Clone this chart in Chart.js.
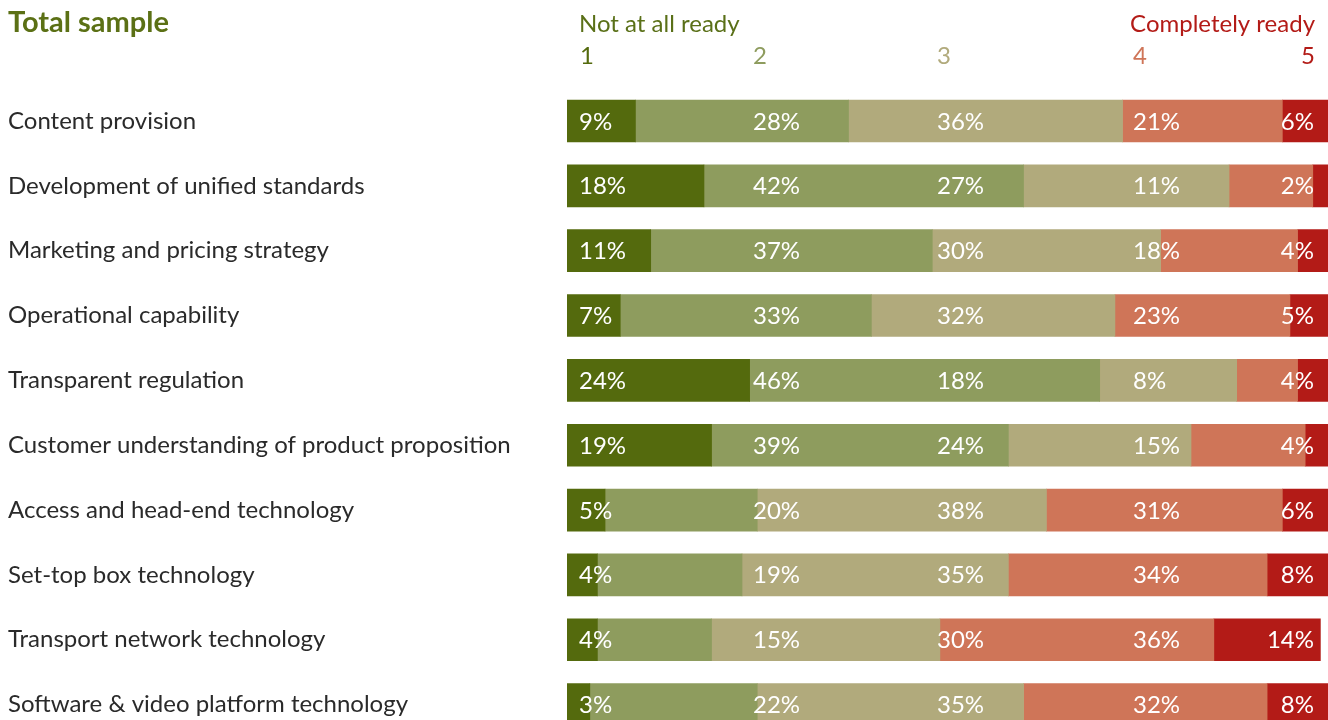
<!DOCTYPE html>
<html>
<head>
<meta charset="utf-8">
<title>Total sample</title>
<script src="https://cdn.jsdelivr.net/npm/chart.js@4/dist/chart.umd.min.js"></script>
<style>
    html, body { margin: 0; padding: 0; background: #fff; overflow: hidden; }
    #readinessChart { display: block; }
</style>
</head>
<body>
<canvas id="readinessChart" width="1328" height="737"></canvas>
<script>
// Survey categories, top to bottom
const categories = [
    'Content provision',
    'Development of unified standards',
    'Marketing and pricing strategy',
    'Operational capability',
    'Transparent regulation',
    'Customer understanding of product proposition',
    'Access and head-end technology',
    'Set-top box technology',
    'Transport network technology',
    'Software & video platform technology'
];

// Share of answers (%) per readiness level, 1 = not at all ready ... 5 = completely ready
const level1 = [9, 18, 11, 7, 24, 19, 5, 4, 4, 3];
const level2 = [28, 42, 37, 33, 46, 39, 20, 19, 15, 22];
const level3 = [36, 27, 30, 32, 18, 24, 38, 35, 30, 35];
const level4 = [21, 11, 18, 23, 8, 15, 31, 34, 36, 32];
const level5 = [6, 2, 4, 5, 4, 4, 6, 8, 14, 8];

const levelNames = ['1', '2', '3', '4', '5'];
const levelColors = ['#546a0d', '#8e9c5e', '#b1aa7c', '#cf7558', '#b31b17'];

document.addEventListener('DOMContentLoaded', function() {
    const ctx = document.getElementById('readinessChart').getContext('2d');
    const series = [level1, level2, level3, level4, level5];

    // Percent labels sit in fixed columns, not in the middle of each segment
    const valueLabels = {
        id: 'valueLabels',
        afterDatasetsDraw(chart) {
            const c = chart.ctx;
            const left = chart.chartArea.left;
            const columns = [12, 186, 370, 566, 747];
            c.save();
            c.font = '24px Lato';
            c.fillStyle = '#ffffff';
            chart.data.datasets.forEach((ds, j) => {
                const meta = chart.getDatasetMeta(j);
                meta.data.forEach((bar, i) => {
                    c.textAlign = j === 4 ? 'right' : 'left';
                    c.fillText(ds.data[i] + '%', left + columns[j], bar.y + 8.5);
                });
            });
            c.restore();
        }
    };

    // Title and the readiness scale above the bars
    const header = {
        id: 'header',
        afterDraw(chart) {
            const c = chart.ctx;
            c.save();
            c.textBaseline = 'alphabetic';
            c.font = 'bold 29px Lato';
            c.fillStyle = '#5b7015';
            c.textAlign = 'left';
            c.fillText('Total sample', 8, 32);

            c.font = '24px Lato';
            c.fillStyle = '#5a7018';
            c.fillText('Not at all ready', 579, 32);
            c.fillStyle = levelColors[4];
            c.textAlign = 'right';
            c.fillText('Completely ready', 1315, 32);

            const xs = [580, 753, 937, 1133, 1315];
            levelNames.forEach((name, k) => {
                c.fillStyle = levelColors[k];
                c.textAlign = k === 4 ? 'right' : 'left';
                c.fillText(name, xs[k], 64);
            });
            c.restore();
        }
    };

    new Chart(ctx, {
        type: 'bar',
        data: {
            labels: categories,
            datasets: series.map((values, k) => ({
                label: levelNames[k],
                data: values,
                backgroundColor: levelColors[k],
                borderWidth: 0,
                barThickness: 42
            }))
        },
        options: {
            indexAxis: 'y',
            responsive: false,
            animation: false,
            layout: {
                padding: { left: 8, top: 88.6, right: 0, bottom: 0 }
            },
            plugins: {
                legend: { display: false },
                tooltip: { enabled: false }
            },
            scales: {
                x: {
                    stacked: true,
                    display: false,
                    min: 0,
                    max: 100
                },
                y: {
                    stacked: true,
                    grid: { display: false, drawTicks: false },
                    border: { display: false },
                    ticks: {
                        crossAlign: 'far',
                        color: '#2a2a2a',
                        font: { family: 'Lato', size: 24 },
                        padding: 0
                    },
                    afterFit(scale) {
                        // fixed label column, no extra room for the end labels
                        scale.width = 559;
                        scale.paddingTop = 0;
                        scale.paddingBottom = 0;
                    }
                }
            }
        },
        plugins: [valueLabels, header]
    });
});
</script>
</body>
</html>
